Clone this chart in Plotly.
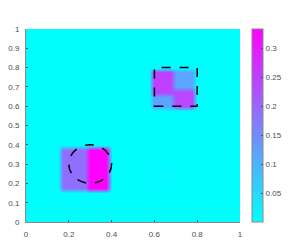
import numpy as np
import plotly.graph_objects as go

# grid of the field
grid_step = 0.025
background = 0.003

# rectangular patches of the field: x0, x1, y0, y1, value
patch_x0 = [0.175, 0.29, 0.58, 0.58, 0.68, 0.58]
patch_x1 = [0.29, 0.385, 0.78, 0.68, 0.78, 0.68]
patch_y0 = [0.175, 0.175, 0.59, 0.67, 0.59, 0.18]
patch_y1 = [0.385, 0.385, 0.78, 0.78, 0.68, 0.29]
patch_val = [0.19, 0.333, 0.12, 0.25, 0.24, 0.008]

# outlines
circle_cx, circle_cy, circle_r = 0.3, 0.3, 0.1
rect_x = [0.6, 0.8]
rect_y = [0.6, 0.8]

x_ticks = [0, 0.2, 0.4, 0.6, 0.8, 1]
y_ticks = [0, 0.1, 0.2, 0.3, 0.4, 0.5, 0.6, 0.7, 0.8, 0.9, 1]
cb_ticks = [0.05, 0.1, 0.15, 0.2, 0.25, 0.3]
c_min, c_max = 0.001, 0.333

xs = np.round(np.arange(0, 1 + grid_step / 2, grid_step), 4)
ys = xs.copy()
Z = np.full((len(ys), len(xs)), background)
XX, YY = np.meshgrid(xs, ys)
for x0, x1, y0, y1, v in zip(patch_x0, patch_x1, patch_y0, patch_y1, patch_val):
    m = (XX >= x0) & (XX < x1) & (YY >= y0) & (YY < y1)
    Z[m] = v

font = dict(family="Liberation Sans, Arial, sans-serif", size=8, color="#4d4d4d")

fig = go.Figure()
fig.add_trace(go.Heatmap(
    x=xs, y=ys, z=Z, zsmooth="best",
    colorscale=[[0, "rgb(0,255,255)"], [1, "rgb(255,0,255)"]],
    zmin=c_min, zmax=c_max,
    colorbar=dict(
        x=1.056, xanchor="left", xref="paper", y=0.5, yanchor="middle",
        len=1, lenmode="fraction", thickness=11, thicknessmode="pixels",
        outlinecolor="#888888", outlinewidth=1,
        tickvals=cb_ticks, ticktext=[str(t) for t in cb_ticks],
        ticks="inside", ticklen=2, tickcolor="#444444",
        tickfont=font, xpad=0, ypad=0,
    ),
))

fig.add_shape(type="circle", xref="x", yref="y",
              x0=circle_cx - circle_r, x1=circle_cx + circle_r,
              y0=circle_cy - circle_r, y1=circle_cy + circle_r,
              line=dict(color="black", width=1.5, dash="dash"))
fig.add_shape(type="rect", xref="x", yref="y",
              x0=rect_x[0], x1=rect_x[1], y0=rect_y[0], y1=rect_y[1],
              line=dict(color="black", width=1.5, dash="dash"))

# the page body has an 8px margin, so the figure is drawn 8px smaller and offset
fig.update_layout(
    width=282, height=242,
    margin=dict(l=18, r=50, t=21, b=28, autoexpand=False),
    paper_bgcolor="white", plot_bgcolor="white",
    font=font, showlegend=False,
    xaxis=dict(range=[0, 1], tickvals=x_ticks, ticktext=[str(t) for t in x_ticks],
               ticks="inside", ticklen=2, tickcolor="#444444", ticklabelstandoff=4,
               showgrid=False, zeroline=False, showline=True, linecolor="#888888",
               linewidth=1, tickfont=font),
    yaxis=dict(range=[0, 1], tickvals=y_ticks, ticktext=[str(t) for t in y_ticks],
               ticks="inside", ticklen=2, tickcolor="#444444", ticklabelstandoff=4,
               showgrid=False, zeroline=False, showline=True, linecolor="#888888",
               linewidth=1, tickfont=font),
)

fig.write_html("out.html")
